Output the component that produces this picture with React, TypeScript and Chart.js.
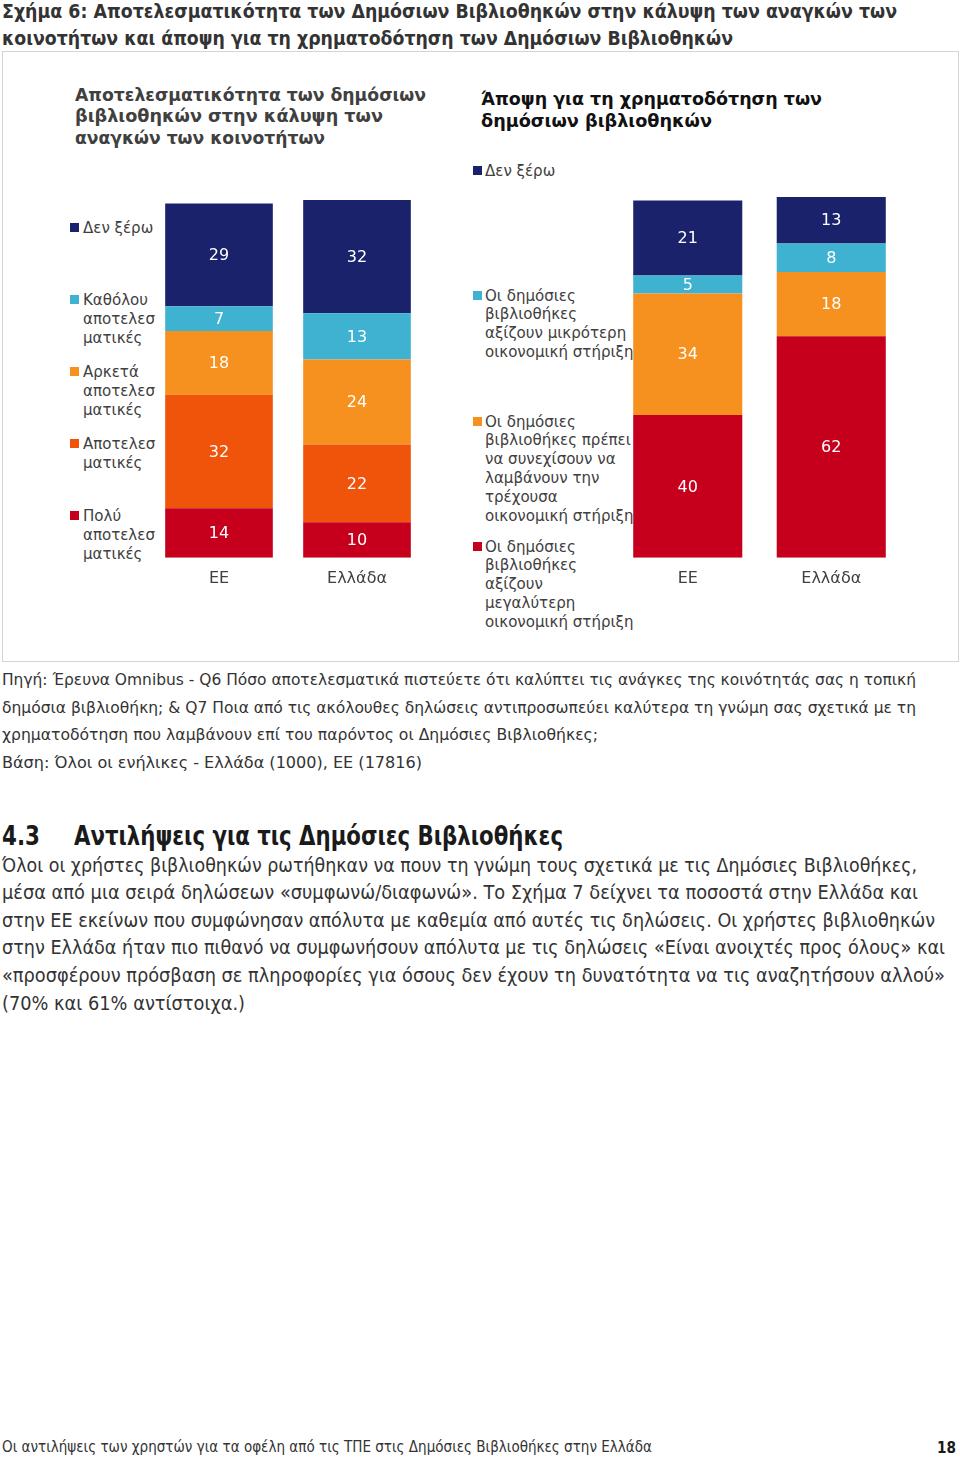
import React, { useEffect, useLayoutEffect, useRef } from "react";
import { Chart, registerables } from "chart.js";

Chart.register(...registerables);

// ---------- DATA ----------
const categories = ["ΕΕ", "Ελλάδα"];

// Left chart: effectiveness (stack order bottom -> top)
const effSeriesNames = ["Πολύ αποτελεσματικές", "Αποτελεσματικές", "Αρκετά αποτελεσματικές", "Καθόλου αποτελεσματικές", "Δεν ξέρω"];
const effVeryEffective = [14, 10];
const effEffective = [32, 22];
const effFairly = [18, 24];
const effNotAtAll = [7, 13];
const effDontKnow = [29, 32];

// Right chart: funding opinion (stack order bottom -> top)
const fundSeriesNames = [
  "Οι δημόσιες βιβλιοθήκες αξίζουν μεγαλύτερη οικονομική στήριξη",
  "Οι δημόσιες βιβλιοθήκες πρέπει να συνεχίσουν να λαμβάνουν την τρέχουσα οικονομική στήριξη",
  "Οι δημόσιες βιβλιοθήκες αξίζουν μικρότερη οικονομική στήριξη",
  "Δεν ξέρω",
];
const fundMore = [40, 62];
const fundSame = [34, 18];
const fundLess = [5, 8];
const fundDontKnow = [21, 13];

const yMax = 101;

// ---------- STYLE ----------
const NAVY = "#19226a";
const CYAN = "#3fb2d1";
const ORANGE = "#f6911f";
const DORANGE = "#f0540b";
const RED = "#c6001c";
const FONT = "'DejaVu Sans', Verdana, sans-serif";

const valueLabels = {
  id: "valueLabels",
  afterDatasetsDraw(chart: any) {
    const ctx = chart.ctx;
    ctx.save();
    ctx.font = "16px " + FONT;
    ctx.fillStyle = "#ffffff";
    ctx.textAlign = "center";
    ctx.textBaseline = "middle";
    chart.data.datasets.forEach((ds: any, di: number) => {
      const meta = chart.getDatasetMeta(di);
      meta.data.forEach((el: any, i: number) => {
        const p = el.getProps(["x", "y", "base"], true);
        ctx.fillText(String(ds.data[i]), p.x, (p.y + p.base) / 2 + 1);
      });
    });
    ctx.restore();
  },
};

function StackChart(props: { left: number; top: number; width: number; height: number; padTop: number; barPct: number; datasets: any[] }) {
  const ref = useRef<HTMLCanvasElement>(null);
  useEffect(() => {
    if (!ref.current) return;
    const chart = new Chart(ref.current, {
      type: "bar",
      data: { labels: categories, datasets: props.datasets },
      options: {
        animation: false,
        responsive: false,
        maintainAspectRatio: false,
        layout: { padding: { top: props.padTop, bottom: 0, left: 0, right: 0 } },
        plugins: { legend: { display: false }, tooltip: { enabled: false } },
        datasets: { bar: { barPercentage: props.barPct, categoryPercentage: 1 } },
        scales: {
          x: {
            stacked: true,
            grid: { display: false, drawTicks: false },
            border: { display: false },
            ticks: { color: "#404040", font: { family: FONT, size: 16 }, padding: 11 },
          },
          y: { stacked: true, display: false, min: 0, max: yMax },
        },
      } as any,
      plugins: [valueLabels],
    });
    return () => chart.destroy();
  }, []);
  return (
    <canvas
      ref={ref}
      width={props.width}
      height={props.height}
      style={{ position: "absolute", left: props.left, top: props.top, width: props.width, height: props.height }}
    />
  );
}

function Fit(props: { x: number; y: number; w?: number; sx?: number; size: number; bold?: boolean; color?: string; text: string }) {
  const ref = useRef<HTMLSpanElement>(null);
  useLayoutEffect(() => {
    const el = ref.current;
    if (!el) return;
    if (props.sx) {
      el.style.transform = `scaleX(${props.sx})`;
      return;
    }
    if (!props.w) return;
    el.style.transform = "none";
    const actual = el.getBoundingClientRect().width;
    if (actual > 0) el.style.transform = `scaleX(${props.w / actual})`;
  }, [props.text, props.w, props.sx]);
  const lh = Math.round(props.size * 1.2);
  return (
    <span
      ref={ref}
      style={{
        position: "absolute",
        left: props.x,
        top: props.y - lh / 2,
        lineHeight: lh + "px",
        fontSize: props.size,
        fontFamily: FONT,
        fontWeight: props.bold ? "bold" : "normal",
        color: props.color || "#333333",
        whiteSpace: "nowrap",
        transformOrigin: "left center",
        display: "inline-block",
      }}
    >
      {props.text}
    </span>
  );
}

type LegendEntry = { color: string; lines: string[]; y: number };

function Legend(props: { x: number; markerX: number; entries: LegendEntry[]; step: number }) {
  return (
    <>
      {props.entries.map((e, i) => (
        <React.Fragment key={i}>
          <div style={{ position: "absolute", left: props.markerX, top: e.y - 4, width: 9, height: 9, background: e.color }} />
          {e.lines.map((l, j) => (
            <Fit key={j} x={props.x} y={e.y + j * props.step} size={16} sx={0.94} color="#404040" text={l} />
          ))}
        </React.Fragment>
      ))}
    </>
  );
}

export default function App() {
  const leftDatasets = [
    { label: effSeriesNames[0], data: effVeryEffective, backgroundColor: RED },
    { label: effSeriesNames[1], data: effEffective, backgroundColor: DORANGE },
    { label: effSeriesNames[2], data: effFairly, backgroundColor: ORANGE },
    { label: effSeriesNames[3], data: effNotAtAll, backgroundColor: CYAN },
    { label: effSeriesNames[4], data: effDontKnow, backgroundColor: NAVY },
  ];
  const rightDatasets = [
    { label: fundSeriesNames[0], data: fundMore, backgroundColor: RED },
    { label: fundSeriesNames[1], data: fundSame, backgroundColor: ORANGE },
    { label: fundSeriesNames[2], data: fundLess, backgroundColor: CYAN },
    { label: fundSeriesNames[3], data: fundDontKnow, backgroundColor: NAVY },
  ];

  const leftLegend: LegendEntry[] = [
    { color: NAVY, lines: ["Δεν ξέρω"], y: 227 },
    { color: CYAN, lines: ["Καθόλου", "αποτελεσ", "ματικές"], y: 299 },
    { color: ORANGE, lines: ["Αρκετά", "αποτελεσ", "ματικές"], y: 371 },
    { color: DORANGE, lines: ["Αποτελεσ", "ματικές"], y: 443 },
    { color: RED, lines: ["Πολύ", "αποτελεσ", "ματικές"], y: 515 },
  ];
  const rightLegend: LegendEntry[] = [
    { color: NAVY, lines: ["Δεν ξέρω"], y: 170 },
    { color: CYAN, lines: ["Οι δημόσιες", "βιβλιοθήκες", "αξίζουν μικρότερη", "οικονομική στήριξη"], y: 295 },
    { color: ORANGE, lines: ["Οι δημόσιες", "βιβλιοθήκες πρέπει", "να συνεχίσουν να", "λαμβάνουν την", "τρέχουσα", "οικονομική στήριξη"], y: 421 },
    { color: RED, lines: ["Οι δημόσιες", "βιβλιοθήκες", "αξίζουν", "μεγαλύτερη", "οικονομική στήριξη"], y: 546 },
  ];

  return (
    <div style={{ position: "absolute", left: 0, top: 0, width: 960, height: 1458, background: "#ffffff", overflow: "hidden" }}>
      <Fit x={2} y={11} w={895} size={20} bold color="#333333" text="Σχήμα 6: Αποτελεσματικότητα των Δημόσιων Βιβλιοθηκών στην κάλυψη των αναγκών των" />
      <Fit x={2} y={38} w={731} size={20} bold color="#333333" text="κοινοτήτων και άποψη για τη χρηματοδότηση των Δημόσιων Βιβλιοθηκών" />

      <div style={{ position: "absolute", left: 2, top: 51, width: 955, height: 609, border: "1px solid #d4d4d4" }} />

      <Fit x={75} y={95} w={351} size={18} bold color="#404040" text="Αποτελεσματικότητα των δημόσιων" />
      <Fit x={75} y={116} w={308} size={18} bold color="#404040" text="βιβλιοθηκών στην κάλυψη των" />
      <Fit x={75} y={138} w={250} size={18} bold color="#404040" text="αναγκών των κοινοτήτων" />

      <Fit x={481} y={99} w={341} size={18} bold color="#111111" text="Άποψη για τη χρηματοδότηση των" />
      <Fit x={481} y={121} w={231} size={18} bold color="#111111" text="δημόσιων βιβλιοθηκών" />

      <Legend x={83} markerX={70} entries={leftLegend} step={19} />
      <div style={{ position: "absolute", left: 0, top: 0, width: 633, height: 660, overflow: "hidden" }}>
        <Legend x={485} markerX={473} entries={rightLegend} step={18.9} />
      </div>

      <StackChart left={150} top={180} width={276} height={419} padTop={20} barPct={0.78} datasets={leftDatasets} />
      <StackChart left={616} top={180} width={287} height={419} padTop={17} barPct={0.76} datasets={rightDatasets} />

      <Fit x={2} y={679} w={914} size={16} text="Πηγή: Έρευνα Omnibus - Q6 Πόσο αποτελεσματικά πιστεύετε ότι καλύπτει τις ανάγκες της κοινότητάς σας η τοπική" />
      <Fit x={2} y={707} w={914} size={16} text="δημόσια βιβλιοθήκη; & Q7 Ποια από τις ακόλουθες δηλώσεις αντιπροσωπεύει καλύτερα τη γνώμη σας σχετικά με τη" />
      <Fit x={2} y={734} w={596} size={16} text="χρηματοδότηση που λαμβάνουν επί του παρόντος οι Δημόσιες Βιβλιοθήκες;" />
      <Fit x={2} y={762} w={420} size={16} text="Βάση: Όλοι οι ενήλικες - Ελλάδα (1000), ΕΕ (17816)" />

      <Fit x={2} y={836} w={38} size={26} bold color="#1a1a1a" text="4.3" />
      <Fit x={74} y={836} w={489} size={26} bold color="#1a1a1a" text="Αντιλήψεις για τις Δημόσιες Βιβλιοθήκες" />

      <Fit x={2} y={865} w={915} size={19} text="Όλοι οι χρήστες βιβλιοθηκών ρωτήθηκαν να πουν τη γνώμη τους σχετικά με τις Δημόσιες Βιβλιοθήκες," />
      <Fit x={2} y={892} w={916} size={19} text="μέσα από μια σειρά δηλώσεων «συμφωνώ/διαφωνώ». Το Σχήμα 7 δείχνει τα ποσοστά στην Ελλάδα και" />
      <Fit x={2} y={920} w={933} size={19} text="στην ΕΕ εκείνων που συμφώνησαν απόλυτα με καθεμία από αυτές τις δηλώσεις. Οι χρήστες βιβλιοθηκών" />
      <Fit x={2} y={947} w={943} size={19} text="στην Ελλάδα ήταν πιο πιθανό να συμφωνήσουν απόλυτα με τις δηλώσεις «Είναι ανοιχτές προς όλους» και" />
      <Fit x={2} y={975} w={943} size={19} text="«προσφέρουν πρόσβαση σε πληροφορίες για όσους δεν έχουν τη δυνατότητα να τις αναζητήσουν αλλού»" />
      <Fit x={2} y={1003} w={243} size={19} text="(70% και 61% αντίστοιχα.)" />

      <Fit x={2} y={1447} w={650} size={15} text="Οι αντιλήψεις των χρηστών για τα οφέλη από τις ΤΠΕ στις Δημόσιες Βιβλιοθήκες στην Ελλάδα" />
      <Fit x={937} y={1447} w={19} size={16} bold color="#1a1a1a" text="18" />
    </div>
  );
}
